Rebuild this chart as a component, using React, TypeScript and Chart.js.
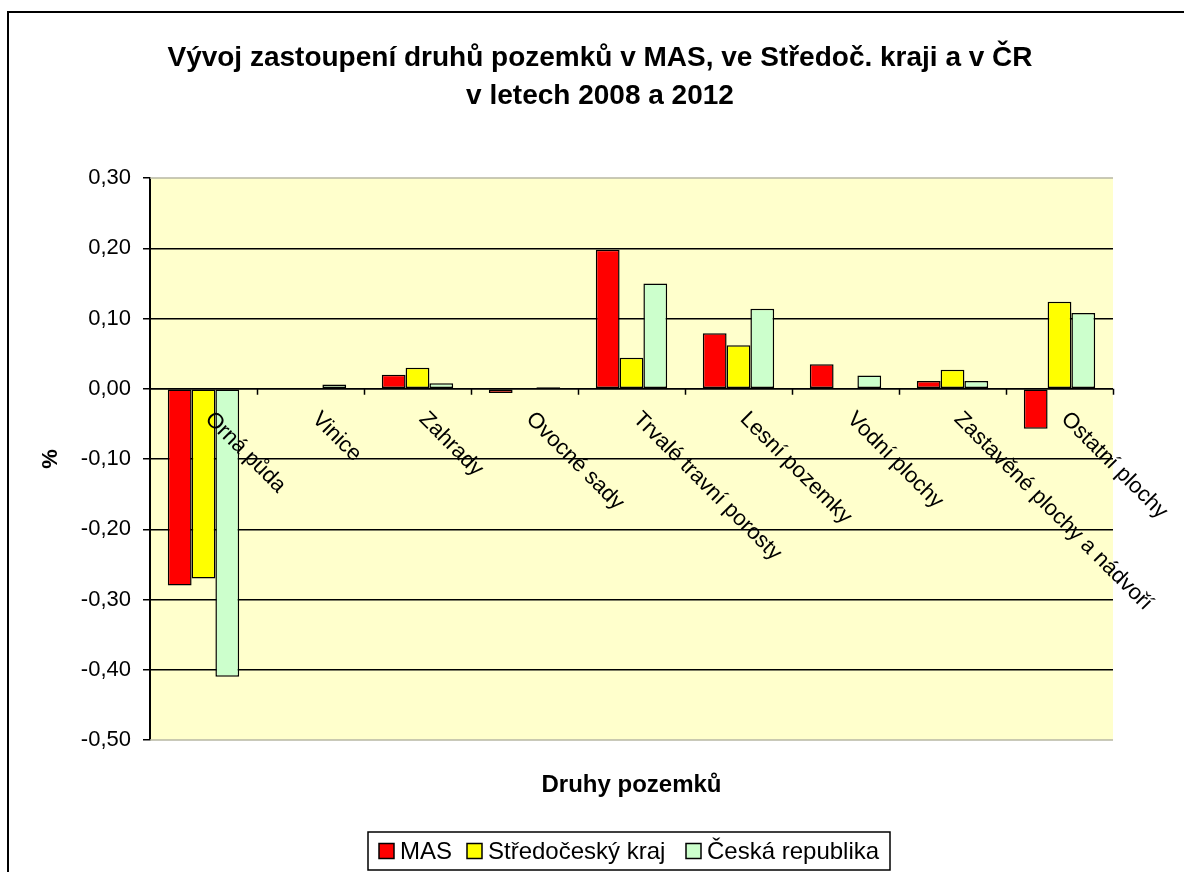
import React, { useEffect, useRef } from "react";
import { Chart, registerables } from "chart.js";

Chart.register(...registerables);

const titleLines = ["Vývoj zastoupení druhů pozemků v MAS, ve Středoč. kraji a v ČR", "v letech 2008 a 2012"];
const xAxisTitle = "Druhy pozemků";
const yAxisTitle = "%";

const categories = [
  "Orná půda",
  "Vinice",
  "Zahrady",
  "Ovocné sady",
  "Trvalé travní porosty",
  "Lesní pozemky",
  "Vodní plochy",
  "Zastavěné plochy a nádvoří",
  "Ostatní plochy",
];

const seriesNames = ["MAS", "Středočeský kraj", "Česká republika"];
const masValues = [-0.28, 0, 0.02, -0.006, 0.198, 0.079, 0.035, 0.011, -0.057];
const krajValues = [-0.27, 0, 0.03, 0, 0.044, 0.062, 0, 0.027, 0.124];
const crValues = [-0.41, 0.006, 0.008, 0.002, 0.15, 0.114, 0.019, 0.011, 0.108];
const seriesColors = ["#FF0000", "#FFFF00", "#CCFFCC"];

const yTickValues = [-0.5, -0.4, -0.3, -0.2, -0.1, 0, 0.1, 0.2, 0.3];

const FONT = '"Liberation Sans", Arial, sans-serif';

function fmt(v: number) {
  const n = Math.abs(v) < 1e-9 ? 0 : v;
  return n.toFixed(2).replace(".", ",");
}

export default function App() {
  const ref = useRef<HTMLCanvasElement>(null);

  useEffect(() => {
    const canvas = ref.current!;

    const excelLook = {
      id: "excelLook",
      beforeDraw(chart: any) {
        const { ctx, chartArea: a } = chart;
        ctx.save();
        ctx.fillStyle = "#FFFFFF";
        ctx.fillRect(0, 0, chart.width, chart.height);
        ctx.fillStyle = "#FFFFCC";
        ctx.fillRect(a.left, a.top, a.right - a.left, a.bottom - a.top);
        ctx.restore();
      },
      afterDraw(chart: any) {
        const { ctx, chartArea: a } = chart;
        const xs = chart.scales.x;
        const ys = chart.scales.y;
        const y0 = ys.getPixelForValue(0);
        ctx.save();

        // plot area border (light)
        ctx.strokeStyle = "#B8B8A4";
        ctx.lineWidth = 1.5;
        ctx.beginPath();
        ctx.moveTo(a.left, a.top);
        ctx.lineTo(a.right, a.top);
        ctx.moveTo(a.left, a.bottom);
        ctx.lineTo(a.right, a.bottom);
        ctx.stroke();

        // category axis line and tick marks
        ctx.strokeStyle = "#000";
        ctx.lineWidth = 1.5;
        ctx.beginPath();
        ctx.moveTo(a.left, y0);
        ctx.lineTo(a.right, y0);
        const cw = (a.right - a.left) / categories.length;
        for (let i = 1; i <= categories.length; i++) {
          const x = Math.round(a.left + i * cw) + 0.5;
          ctx.moveTo(x, y0);
          ctx.lineTo(x, y0 + 6);
        }
        ctx.stroke();

        // category labels, rotated 45° clockwise
        ctx.fillStyle = "#000";
        ctx.font = `22px ${FONT}`;
        ctx.textAlign = "left";
        ctx.textBaseline = "middle";
        categories.forEach((c, i) => {
          const cx = xs.getPixelForValue(i);
          ctx.save();
          ctx.translate(cx + 5, y0 + 27);
          ctx.rotate(Math.PI / 4);
          ctx.fillText(c, 0, 0);
          ctx.restore();
        });

        // title
        ctx.font = `bold 28px ${FONT}`;
        ctx.textAlign = "center";
        ctx.textBaseline = "alphabetic";
        ctx.fillText(titleLines[0], 600, 66);
        ctx.fillText(titleLines[1], 600, 104);

        // x-axis title
        ctx.font = `bold 24px ${FONT}`;
        ctx.fillText(xAxisTitle, (a.left + a.right) / 2, 792);

        // y-axis title
        ctx.save();
        ctx.translate(57, (a.top + a.bottom) / 2);
        ctx.rotate(-Math.PI / 2);
        ctx.font = `bold 22px ${FONT}`;
        ctx.textAlign = "center";
        ctx.fillText(yAxisTitle, 0, 0);
        ctx.restore();

        // legend
        const boxL = 368, boxR = 890, boxT = 832, boxB = 870;
        ctx.lineWidth = 1.5;
        ctx.strokeStyle = "#000";
        ctx.fillStyle = "#FFFFFF";
        ctx.fillRect(boxL, boxT, boxR - boxL, boxB - boxT);
        ctx.strokeRect(boxL, boxT, boxR - boxL, boxB - boxT);
        ctx.font = `24px ${FONT}`;
        ctx.textAlign = "left";
        ctx.textBaseline = "middle";
        const sq = 15;
        const squareX = [379, 467, 686];
        const cy = (boxT + boxB) / 2;
        seriesNames.forEach((n, i) => {
          const x = squareX[i];
          ctx.fillStyle = seriesColors[i];
          ctx.fillRect(x, cy - sq / 2, sq, sq);
          ctx.strokeStyle = "#000";
          ctx.lineWidth = 1.5;
          ctx.strokeRect(x, cy - sq / 2, sq, sq);
          ctx.fillStyle = "#000";
          ctx.fillText(n, x + sq + 6, cy + 1);
        });

        // outer chart border
        ctx.strokeStyle = "#000";
        ctx.lineWidth = 2;
        ctx.beginPath();
        ctx.moveTo(8, chart.height + 5);
        ctx.lineTo(8, 12);
        ctx.lineTo(chart.width + 5, 12);
        ctx.stroke();

        ctx.restore();
      },
    };

    const chart = new Chart(canvas, {
      type: "bar",
      data: {
        labels: categories,
        datasets: [masValues, krajValues, crValues].map((vals, i) => ({
          label: seriesNames[i],
          data: vals,
          backgroundColor: seriesColors[i],
          borderColor: "#000",
          borderWidth: 1.5,
          borderSkipped: false,
          categoryPercentage: 0.667,
          barPercentage: 1,
        })),
      },
      options: {
        responsive: false,
        animation: false,
        events: [],
        layout: { padding: { top: 178, right: 71, bottom: 132, left: 0 } },
        plugins: {
          legend: { display: false },
          title: { display: false },
          tooltip: { enabled: false },
        },
        scales: {
          x: { display: false },
          y: {
            min: -0.5,
            max: 0.3,
            afterFit: (scale: any) => {
              scale.width = 150;
            },
            afterBuildTicks: (scale: any) => {
              scale.ticks = yTickValues.map((v) => ({ value: v }));
            },
            border: { display: true, color: "#000", width: 2 },
            grid: {
              color: (c: any) => {
                const v = c.tick ? c.tick.value : 0;
                if (Math.abs(v - 0.3) < 1e-9 || Math.abs(v + 0.5) < 1e-9) return "rgba(0,0,0,0)";
                return "#000";
              },
              lineWidth: 1.5,
              drawTicks: true,
              tickLength: 7,
              tickColor: "#000",
              tickWidth: 1.5,
            },
            ticks: {
              color: "#000",
              font: { family: FONT, size: 22 },
              padding: 12,
              callback: (v: any) => fmt(Number(v)),
            },
          },
        },
      },
      plugins: [excelLook],
    });

    return () => chart.destroy();
  }, []);

  return (
    <div style={{ position: "absolute", left: 0, top: 0, width: 1184, height: 872 }}>
      <canvas ref={ref} width={1184} height={872} style={{ display: "block" }} />
    </div>
  );
}
